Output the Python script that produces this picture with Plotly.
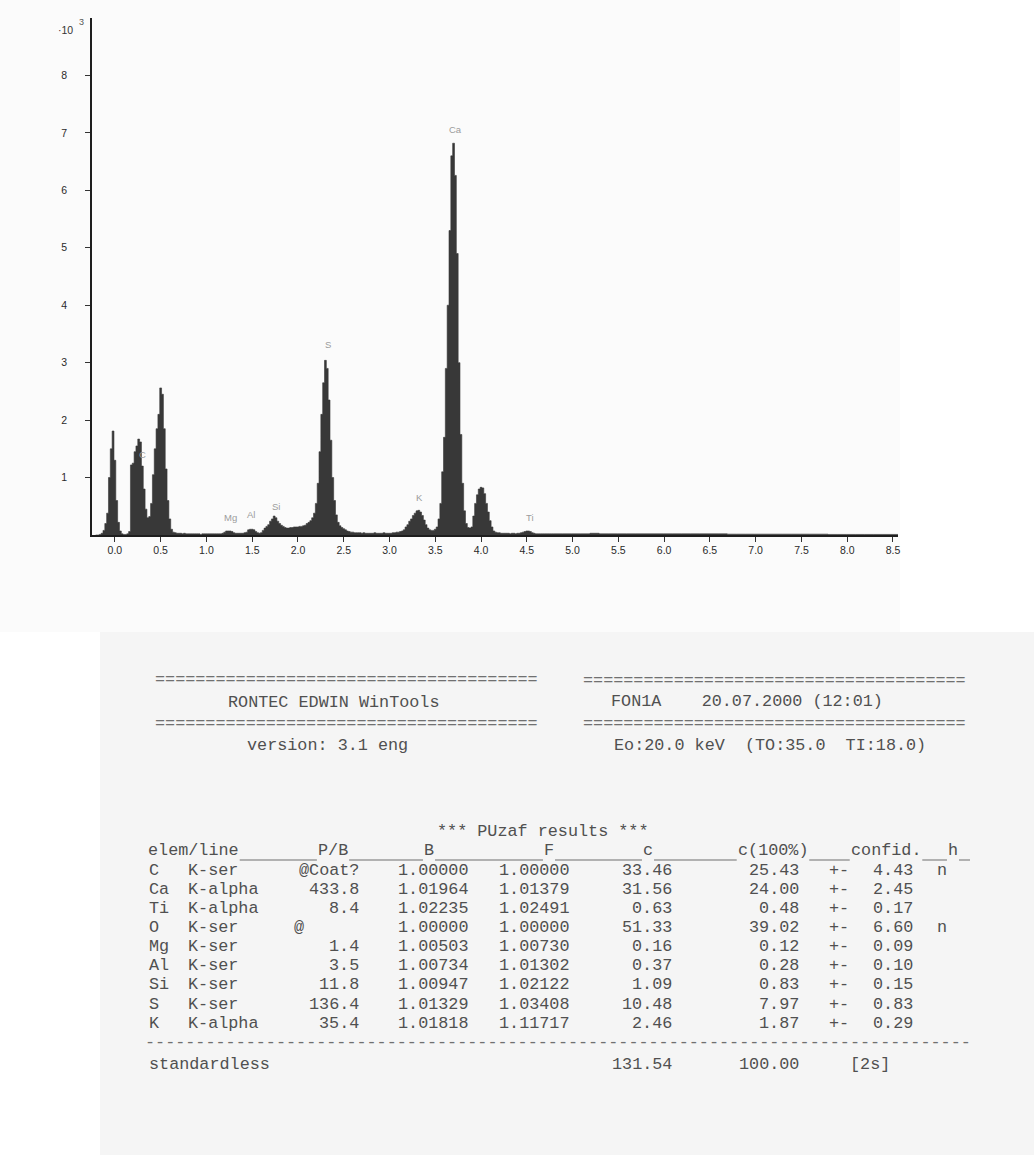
import numpy as np
import plotly.graph_objects as go

# ---------------- spectrum data (counts, units of 10^3) ----------------
main_first_channel_kev = -0.20   # centre of first channel group
main_channel_kev = 0.02
counts_main = [
    0.00, 0.00, 0.01, 0.03, 0.08, 0.20, 0.38, 1.00, 1.50, 1.81,   # -0.20 .. -0.02
    1.30, 0.60, 0.22, 0.07, 0.02, 0.01, 0.01, 0.02, 0.06, 1.22,   # 0.00 .. 0.18
    1.25, 1.45, 1.55, 1.67, 1.62, 1.20, 0.80, 0.45, 0.30, 0.32,   # 0.20 .. 0.38
    0.55, 1.05, 1.50, 1.85, 2.10, 2.56, 2.45, 1.85, 1.15, 0.60,   # 0.40 .. 0.58
    0.28, 0.10, 0.05, 0.04, 0.03, 0.03, 0.03, 0.02, 0.03, 0.02,   # 0.60 .. 0.78
    0.02, 0.02, 0.02, 0.02, 0.02, 0.02, 0.02, 0.01, 0.02, 0.02,   # 0.80 .. 0.98
    0.02, 0.02, 0.02, 0.02, 0.02, 0.02, 0.02, 0.02, 0.02, 0.03,   # 1.00 .. 1.18
    0.05, 0.07, 0.07, 0.07, 0.06, 0.04, 0.03, 0.03, 0.03, 0.03,   # 1.20 .. 1.38
    0.03, 0.04, 0.05, 0.09, 0.10, 0.10, 0.09, 0.06, 0.04, 0.03,   # 1.40 .. 1.58
    0.04, 0.08, 0.12, 0.15, 0.18, 0.24, 0.28, 0.33, 0.30, 0.24,   # 1.60 .. 1.78
    0.20, 0.17, 0.15, 0.13, 0.12, 0.12, 0.13, 0.13, 0.14, 0.14,   # 1.80 .. 1.98
    0.14, 0.15, 0.15, 0.16, 0.17, 0.20, 0.22, 0.25, 0.30, 0.38,   # 2.00 .. 2.18
    0.55, 0.90, 1.45, 2.10, 2.65, 3.04, 2.90, 2.35, 1.65, 1.00,   # 2.20 .. 2.38
    0.60, 0.35, 0.22, 0.16, 0.13, 0.11, 0.09, 0.07, 0.06, 0.05,   # 2.40 .. 2.58
    0.05, 0.04, 0.04, 0.04, 0.04, 0.03, 0.04, 0.03, 0.03, 0.03,   # 2.60 .. 2.78
    0.03, 0.03, 0.04, 0.03, 0.03, 0.03, 0.03, 0.04, 0.03, 0.03,   # 2.80 .. 2.98
    0.03, 0.03, 0.04, 0.04, 0.05, 0.05, 0.06, 0.07, 0.09, 0.14,   # 3.00 .. 3.18
    0.18, 0.24, 0.28, 0.34, 0.38, 0.42, 0.43, 0.40, 0.34, 0.26,   # 3.20 .. 3.38
    0.18, 0.12, 0.09, 0.08, 0.08, 0.10, 0.14, 0.28, 0.55, 1.10,   # 3.40 .. 3.58
    1.70, 2.90, 4.00, 5.30, 6.60, 6.82, 6.26, 4.90, 3.00, 1.75,   # 3.60 .. 3.78
    0.90, 0.42, 0.20, 0.13, 0.12, 0.14, 0.33, 0.55, 0.70, 0.80,   # 3.80 .. 3.98
    0.83, 0.82, 0.72, 0.55, 0.40, 0.25, 0.14, 0.07, 0.05, 0.04,   # 4.00 .. 4.18
    0.04, 0.03, 0.03, 0.03, 0.03, 0.03, 0.02, 0.03, 0.03, 0.02,   # 4.20 .. 4.38
    0.03, 0.03, 0.04, 0.05, 0.06, 0.07, 0.07, 0.06, 0.04, 0.03,   # 4.40 .. 4.58
    0.02, 0.02, 0.02, 0.02, 0.02, 0.02, 0.02, 0.02, 0.02, 0.02,   # 4.60 .. 4.78
]
tail_first_edge_kev = 4.79
tail_channel_kev = 0.10
counts_tail = [
    0.020, 0.020, 0.020, 0.020, 0.030, 0.020, 0.020, 0.020, 0.020, 0.020,
    0.020, 0.020, 0.020, 0.020, 0.020, 0.020, 0.020, 0.020, 0.020, 0.015,
    0.015, 0.015, 0.015, 0.015, 0.015, 0.015, 0.015, 0.015, 0.015, 0.015,
    0.010, 0.010, 0.010, 0.010, 0.010, 0.010, 0.010, 0.010,
]

x_tick_vals = [0.0, 0.5, 1.0, 1.5, 2.0, 2.5, 3.0, 3.5, 4.0, 4.5, 5.0, 5.5, 6.0, 6.5, 7.0, 7.5, 8.0, 8.5]
x_tick_labels = ["0.0", "0.5", "1.0", "1.5", "2.0", "2.5", "3.0", "3.5", "4.0", "4.5",
                 "5.0", "5.5", "6.0", "6.5", "7.0", "7.5", "8.0", "8.5"]
y_tick_vals = [1, 2, 3, 4, 5, 6, 7, 8]
y_tick_labels = ["1", "2", "3", "4", "5", "6", "7", "8"]

peak_names = ["C", "Mg", "Al", "Si", "S", "K", "Ca", "Ti"]
peak_label_kev = [0.30, 1.26, 1.49, 1.76, 2.33, 3.33, 3.72, 4.53]
peak_label_counts = [1.40, 0.31, 0.35, 0.50, 3.32, 0.66, 7.06, 0.31]

# ---------------- report text ----------------
header_left = ["RONTEC EDWIN WinTools", "version: 3.1 eng"]
header_right = ["FON1A    20.07.2000 (12:01)", "Eo:20.0 keV  (TO:35.0  TI:18.0)"]
results_title = "*** PUzaf results ***"
col_headers = ["elem/line", "P/B", "B", "F", "c", "c(100%)", "confid.", "h"]
tbl_elem = ["C", "Ca", "Ti", "O", "Mg", "Al", "Si", "S", "K"]
tbl_line = ["K-ser", "K-alpha", "K-alpha", "K-ser", "K-ser", "K-ser", "K-ser", "K-ser", "K-alpha"]
tbl_pb = ["@Coat?", "433.8", "8.4", "@", "1.4", "3.5", "11.8", "136.4", "35.4"]
tbl_B = ["1.00000", "1.01964", "1.02235", "1.00000", "1.00503", "1.00734", "1.00947", "1.01329", "1.01818"]
tbl_F = ["1.00000", "1.01379", "1.02491", "1.00000", "1.00730", "1.01302", "1.02122", "1.03408", "1.11717"]
tbl_c = ["33.46", "31.56", "0.63", "51.33", "0.16", "0.37", "1.09", "10.48", "2.46"]
tbl_c100 = ["25.43", "24.00", "0.48", "39.02", "0.12", "0.28", "0.83", "7.97", "1.87"]
tbl_conf = ["4.43", "2.45", "0.17", "6.60", "0.09", "0.10", "0.15", "0.83", "0.29"]
tbl_h = ["n", "", "", "n", "", "", "", "", ""]
total_label = "standardless"
total_c = "131.54"
total_c100 = "100.00"
total_sigma = "[2s]"

# ---------------- layout geometry ----------------
W, H = 1034, 1155
PL, PR, PT, PB = 92, 898, 18, 535
SPEC = "#383838"
TXT = "#505050"
MONO = "Liberation Mono"
SANS = "Liberation Sans"
FS = 16.8
CW = FS * 0.6          # monospace advance width in px


def px_x(px):
    return (px - PL) / (PR - PL)


def px_y(py):
    return (PB - py) / (PB - PT)


centers = main_first_channel_kev + main_channel_kev * np.arange(len(counts_main))
edges_main = centers - main_channel_kev / 2
edges_tail = tail_first_edge_kev + tail_channel_kev * np.arange(len(counts_tail))
xs = np.concatenate([edges_main, edges_tail, [edges_tail[-1] + tail_channel_kev]])
ys = np.concatenate([counts_main, counts_tail, [counts_tail[-1]]])

fig = go.Figure()
fig.add_trace(go.Scatter(
    x=xs, y=ys, mode="lines",
    line=dict(shape="hv", color=SPEC, width=0.6),
    fill="tozeroy", fillcolor=SPEC, hoverinfo="skip", showlegend=False,
))

annotations = []
for name, kx, ky in zip(peak_names, peak_label_kev, peak_label_counts):
    annotations.append(dict(text=name, x=kx, y=ky, xref="x", yref="y", showarrow=False,
                            xanchor="center", yanchor="middle",
                            font=dict(family=SANS, size=9.5, color="#9c9c9c")))

annotations.append(dict(text="\u00b710", x=px_x(65), y=px_y(30), xref="paper", yref="paper",
                        showarrow=False, xanchor="center", yanchor="middle",
                        font=dict(family=SANS, size=10.5, color="#333")))
annotations.append(dict(text="3", x=px_x(81), y=px_y(22), xref="paper", yref="paper",
                        showarrow=False, xanchor="center", yanchor="middle",
                        font=dict(family=SANS, size=9, color="#555")))


def txt(s, px, py, anchor="left", color=TXT, size=FS):
    annotations.append(dict(text=s.replace(" ", "\u00a0"), x=px_x(px), y=px_y(py),
                            xref="paper", yref="paper", showarrow=False,
                            xanchor=anchor, yanchor="middle", borderpad=0,
                            font=dict(family=MONO, size=size, color=color)))


# header block (centred on the reference positions)
eq = "=" * 38
txt(eq, 346, 679, anchor="center", color="#707070")
txt(eq, 774, 680, anchor="center", color="#707070")
txt(header_left[0], 333, 702, anchor="center")
txt(header_right[0], 747, 701, anchor="center")
txt(eq, 346, 723, anchor="center", color="#707070")
txt(eq, 774, 723, anchor="center", color="#707070")
txt(header_left[1], 327, 745, anchor="center")
txt(header_right[1], 770, 745, anchor="center")

# results table
txt(results_title, 542, 831.5, anchor="center")
hdr_center = [148 + len(col_headers[0]) * CW / 2, 333, 429, 549, 648, 773, 886, 953]
for s, hx in zip(col_headers, hdr_center):
    txt(s, hx, 851, anchor="center")

shapes = []
# light paper tints of the two scanned sheets
shapes.append(dict(type="rect", xref="paper", yref="paper", x0=px_x(0), x1=px_x(900),
                   y0=px_y(632), y1=px_y(0), fillcolor="#fbfbfb", line=dict(width=0), layer="below"))
shapes.append(dict(type="rect", xref="paper", yref="paper", x0=px_x(100), x1=px_x(W),
                   y0=px_y(H), y1=px_y(632), fillcolor="#f5f5f5", line=dict(width=0), layer="below"))
# header underscores between the column titles
ends = [(c - len(s) * CW / 2, c + len(s) * CW / 2) for s, c in zip(col_headers, hdr_center)]
for k in range(len(ends)):
    a = ends[k][1] + 1
    b = ends[k + 1][0] - 1 if k + 1 < len(ends) else 970
    shapes.append(dict(type="line", xref="paper", yref="paper", x0=px_x(a), x1=px_x(b),
                       y0=px_y(860), y1=px_y(860), line=dict(color="#9a9a9a", width=1.5)))

row0, pitch = 870.0, 19.15
for i in range(len(tbl_elem)):
    ry = row0 + pitch * i
    txt(tbl_elem[i], 148, ry)
    txt(tbl_line[i], 187, ry)
    if tbl_pb[i].startswith("@") and len(tbl_pb[i]) == 1:
        txt(tbl_pb[i], 293, ry)
    else:
        txt(tbl_pb[i], 360, ry, anchor="right")
    txt(tbl_B[i], 470, ry, anchor="right")
    txt(tbl_F[i], 571, ry, anchor="right")
    txt(tbl_c[i], 673, ry, anchor="right")
    txt(tbl_c100[i], 800, ry, anchor="right")
    txt("+-", 839, ry, anchor="center")
    txt(tbl_conf[i], 914, ry, anchor="right")
    if tbl_h[i]:
        txt(tbl_h[i], 942, ry, anchor="center")

txt("-" * 82, 558, 1042.5, anchor="center", color="#707070")
txt(total_label, 148, 1064)
txt(total_c, 673, 1064, anchor="right")
txt(total_c100, 800, 1064, anchor="right")
txt(total_sigma, 870, 1064, anchor="center")

axis_common = dict(showline=True, linecolor="#1e1e1e", linewidth=1.5, ticks="outside",
                   ticklen=5, tickwidth=1, tickcolor="#333", showgrid=False, zeroline=False,
                   tickfont=dict(family=SANS, size=10.5, color="#2a2a2a"), fixedrange=True)

fig.update_layout(
    width=W, height=H,
    margin=dict(l=PL, r=W - PR, t=PT, b=H - PB, pad=0),
    paper_bgcolor="white", plot_bgcolor="rgba(0,0,0,0)",
    showlegend=False,
    xaxis=dict(range=[-0.25, 8.555], tickvals=x_tick_vals, ticktext=x_tick_labels, **axis_common),
    yaxis=dict(range=[0, 9], tickvals=y_tick_vals, ticktext=y_tick_labels,
               ticklabelstandoff=16, **axis_common),
    annotations=annotations,
    shapes=shapes,
)

fig.write_html("out.html", config={"displayModeBar": False},
               post_script="document.body.style.margin='0';document.body.style.overflow='hidden';")
